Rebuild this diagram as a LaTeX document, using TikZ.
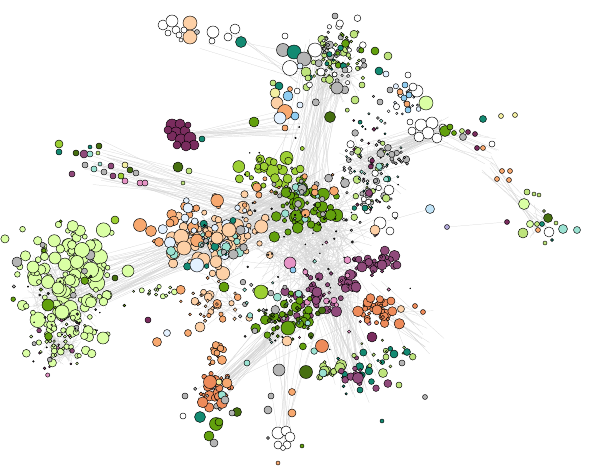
\documentclass[tikz,border=0pt]{standalone}
\usepackage{tikz}
\definecolor{lime}{HTML}{DAFFA4}
\definecolor{sprout}{HTML}{BEE47C}
\definecolor{peach}{HTML}{FDD0A6}
\definecolor{salmon}{HTML}{F7A86F}
\definecolor{coral}{HTML}{EE8B5A}
\definecolor{plum}{HTML}{7A2C5E}
\definecolor{mauve}{HTML}{904A7B}
\definecolor{leaf}{HTML}{62A00D}
\definecolor{yleaf}{HTML}{9CCF33}
\definecolor{moss}{HTML}{466F10}
\definecolor{teal}{HTML}{138A72}
\definecolor{aqua}{HTML}{9BE2D2}
\definecolor{sky}{HTML}{8FCDF2}
\definecolor{ice}{HTML}{E3F1FF}
\definecolor{ash}{HTML}{B5B5B5}
\definecolor{rose}{HTML}{E694C6}
\definecolor{butter}{HTML}{F4EFA2}
\definecolor{lilac}{HTML}{B0A8D8}
\tikzset{
  nd/.style={draw=black,line width=.45pt},
  edge/.style={draw=black!17,line width=.22pt},
}
% random cluster: cx, cy, sx, sy, count, max radius, colour
\newcommand{\blob}[7]{%
  \foreach \k in {1,...,#5}{%
    \pgfmathsetmacro{\bx}{#1+#3*(rand+rand+rand)/2}%
    \pgfmathsetmacro{\by}{#2+#4*(rand+rand+rand)/2}%
    \pgfmathsetmacro{\q}{rnd}%
    \pgfmathsetmacro{\br}{#6*(0.3+0.7*\q*\q)}%
    \path[nd,fill=#7] (\bx,\by) circle[radius=\br pt];
  }}
% random edges between two regions: x1, y1, s1, x2, y2, s2, count
\newcommand{\links}[7]{%
  \foreach \k in {1,...,#7}{%
    \pgfmathsetmacro{\ax}{#1+#3*(rand+rand)/2}%
    \pgfmathsetmacro{\ay}{#2+#3*(rand+rand)/2}%
    \pgfmathsetmacro{\cx}{#4+#6*(rand+rand)/2}%
    \pgfmathsetmacro{\cy}{#5+#6*(rand+rand)/2}%
    \draw[edge] (\ax,\ay) -- (\cx,\cy);
  }}
\newcommand{\vtx}[1]{%
  \foreach \x/\y/\r/\c in {#1}{\path[nd,fill=\c] (\x,\y) circle[radius=\r pt];}}

\begin{document}
\begin{tikzpicture}[x=1pt,y=-1pt]
\pgfmathsetseed{41}
\path[use as bounding box] (0,0) rectangle (600,476);
\fill[white] (0,0) rectangle (600,476);
% edges
\links{310}{240}{70}{310}{240}{70}{260}
\links{300}{200}{40}{65}{300}{40}{45}
\links{65}{290}{45}{65}{290}{45}{140}
\links{60}{345}{22}{60}{345}{22}{80}
\links{300}{200}{40}{325}{65}{30}{45}
\links{335}{80}{30}{335}{80}{30}{70}
\links{360}{165}{25}{440}{130}{15}{45}
\links{370}{170}{20}{370}{170}{40}{70}
\links{310}{200}{40}{210}{240}{40}{70}
\links{210}{240}{40}{210}{240}{40}{70}
\links{330}{290}{40}{330}{290}{40}{110}
\links{330}{290}{40}{215}{390}{20}{35}
\links{330}{290}{30}{355}{375}{30}{45}
\links{300}{300}{40}{285}{438}{8}{12}
\links{300}{220}{30}{100}{165}{30}{30}
\links{290}{125}{20}{183}{135}{8}{15}
\links{430}{130}{15}{495}{150}{20}{12}
\links{490}{165}{15}{540}{222}{15}{8}
\links{540}{222}{20}{540}{222}{20}{14}
\links{300}{80}{15}{215}{32}{20}{5}
\links{380}{300}{25}{420}{330}{30}{18}
\links{220}{300}{30}{220}{300}{30}{40}
\draw[edge] (241,42) -- (290,52);
\draw[edge] (447,227) -- (507,222);
\draw[edge] (202,139) -- (300,115);
\draw[edge] (430,209) -- (380,223);
% random fill
\blob{68}{280}{48}{55}{110}{8}{lime}
\blob{62}{345}{30}{24}{45}{4.5}{lime}
\blob{60}{295}{48}{60}{9}{5.5}{ash}
\blob{60}{295}{48}{60}{8}{4.5}{leaf}
\blob{60}{340}{30}{30}{8}{3}{mauve}
\blob{60}{340}{30}{30}{6}{3}{rose}
\blob{60}{320}{40}{40}{25}{1.5}{black!75}
\blob{150}{292}{25}{5}{14}{3.5}{lime}
\blob{215}{238}{50}{32}{75}{7.5}{peach}
\blob{200}{230}{48}{32}{18}{6.5}{salmon}
\blob{210}{235}{42}{32}{15}{6.5}{ice}
\blob{215}{245}{38}{28}{12}{5}{aqua}
\blob{220}{240}{42}{28}{8}{5}{ash}
\blob{220}{240}{42}{28}{8}{4}{teal}
\blob{210}{305}{30}{20}{22}{4.5}{peach}
\blob{210}{305}{30}{20}{12}{4.5}{salmon}
\blob{305}{205}{30}{28}{50}{6.5}{leaf}
\blob{272}{170}{30}{18}{30}{6.5}{yleaf}
\blob{305}{200}{22}{22}{6}{6.5}{aqua}
\blob{300}{190}{42}{32}{18}{5}{ash}
\blob{300}{190}{42}{32}{12}{4.5}{salmon}
\blob{335}{60}{32}{32}{45}{4}{sprout}
\blob{335}{60}{32}{32}{22}{4.5}{ash}
\blob{335}{60}{32}{32}{20}{4}{white}
\blob{335}{60}{32}{32}{10}{4}{leaf}
\blob{335}{60}{32}{32}{8}{4}{teal}
\blob{405}{100}{15}{15}{12}{3.5}{ice}
\blob{405}{100}{15}{15}{8}{3.5}{white}
\blob{370}{165}{30}{60}{35}{4}{ash}
\blob{370}{165}{30}{60}{18}{4}{white}
\blob{370}{165}{30}{60}{18}{4}{sprout}
\blob{370}{165}{30}{60}{12}{3.5}{teal}
\blob{370}{165}{30}{60}{12}{3.5}{plum}
\blob{370}{165}{30}{60}{12}{3.5}{aqua}
\blob{400}{160}{10}{10}{12}{4}{ash}
\blob{375}{262}{22}{12}{30}{5.5}{mauve}
\blob{315}{295}{28}{22}{40}{5.5}{mauve}
\blob{350}{282}{10}{8}{10}{5.5}{mauve}
\blob{330}{290}{50}{40}{22}{3.5}{rose}
\blob{380}{312}{20}{13}{30}{5.5}{coral}
\blob{290}{320}{32}{26}{35}{5.5}{leaf}
\blob{290}{320}{32}{26}{18}{4.5}{moss}
\blob{270}{300}{42}{32}{18}{5}{ash}
\blob{280}{300}{42}{40}{14}{4}{aqua}
\blob{360}{370}{30}{20}{22}{4}{teal}
\blob{330}{370}{12}{10}{18}{5.5}{sprout}
\blob{365}{375}{20}{15}{12}{4.5}{mauve}
\blob{380}{360}{30}{20}{12}{3.5}{sprout}
\blob{215}{390}{16}{18}{35}{5.5}{coral}
\blob{215}{360}{10}{15}{12}{4.5}{salmon}
\blob{215}{395}{20}{20}{10}{4.5}{ash}
\blob{300}{240}{90}{110}{60}{1.4}{black!75}
% key nodes
\vtx{163/25/5/white,172/21/6/white,176/30/4/white,168/33/3/white,179/35/3/white,
  190/23/7/peach,190/37/7/peach,184/30/3/white,197/32/2.5/ash,213/32/6/white,
  212/41/3/white,235/29/5/white,228/37/4/white,241/42/5.5/teal,181/40/2/white}
\vtx{283/50/6.5/ash,294/52/7/teal,304/59/7/ash,315/50/7/white,290/68/7.5/white,
  306/72/5/sprout,321/72/4/white,308/78/3/sprout,300/66/3/ice,285/36/3/white,
  335/16/3/ash,337/88/6/ash,330/117/5.5/moss,375/51/4/leaf,388/56/4/sprout,
  379/71/4/teal,362/85/3/sprout,345/70/3/ash,355/100/4/sprout}
\vtx{279/86/4/teal,275/93/5/butter,288/96/5/sky,277/103/6/peach,285/112/7.5/salmon,
  295/116/4/sky,280/118/6/ice,273/83/3/sprout,290/89/2.5/salmon,285/128/3/salmon,
  300/105/3/ice,254/122/5/leaf}
\vtx{172/125/6/plum,180/124/5/plum,176/133/6/plum,185/131/5/plum,172/136/5/plum,
  181/140/6/plum,190/138/6/plum,194/145/5/plum,186/146/5/plum,177/145/4/plum,
  168/130/4/plum,188/125/3/plum,202/139/3/teal}
\vtx{59/144/4/yleaf,59/152/3/teal,76/153/3/moss,84/154/4/mauve,90/154/3/aqua,
  99/146/3/moss,90/147/2/teal,98/153/2/sprout,72/174/3/mauve,85/165/3/ash,
  94/169/3/aqua,100/164/2/aqua,104/172/3/ash,111/166/3/mauve,113/176/3/mauve,
  125/165/3/butter,130/170/3/moss,136/173/3/ash,121/176/3/yleaf,125/181/3/rose,
  140/183/3/rose,145/183/3/rose,178/167/5/moss,189/171/3/sprout,183/183/2/sprout}
\vtx{17/262/5/ash,90/255/5/ash,48/305/6/leaf,115/220/4/yleaf,115/278/3/moss,
  82/250/7.5/lime,77/262/6.5/lime,55/258/6/lime,62/312/7/lime,128/271/6/lime,
  103/338/6/lime,48/282/6.5/lime,70/280/5.5/lime,33/267/6/lime,58/288/6/lime}
\vtx{140/225/6.5/salmon,151/231/5.5/salmon,159/242/4.5/salmon,170/223/4/salmon,
  171/251/4.5/aqua,184/248/7/peach,197/265/7/ice,229/230/7/peach,217/238/6/peach,
  188/208/5/ice,185/218/4/ice,167/333/3.5/ice,157/342/4.5/salmon,148/320/3/plum,
  188/333/3.5/salmon,200/327/5/peach,222/360/4.5/salmon,217/353/3/salmon,
  247/363/3/aqua,287/341/5/peach,224/287/5/leaf,261/292/7/yleaf}
\vtx{421/125/6/white,432/123/6/white,428/133/6/white,419/137/5/white,437/138/5/white,
  443/128/4/white,412/131/4/white,410/122/3/white,445/131/5.5/leaf,450/127/3/leaf,
  454/133/2.5/leaf,462/131/2.5/sprout,426/103/7/lime,417/91/6/white,413/87/4/white,
  405/85/3/sky,409/95/3/sky,404/98/3/sky,400/92/3/salmon,407/104/3/salmon,
  408/75/3/white,386/74/3/ice,408/110/3/sky,390/90/3/ash,380/102/3/ash}
\vtx{463/137/3.5/ash,468/132/2.5/plum,475/134/2.5/plum,477/148/2.5/plum,
  483/148/2.5/salmon,492/144/3/white,483/119/3.5/teal,501/116/2.5/butter,
  515/115/2.5/butter,497/179/2.5/salmon,502/171/2.5/salmon,510/171/2.5/salmon,
  509/180/2.5/salmon}
\vtx{524/204/5.5/lime,527/192/3/sprout,534/194/2/sprout,539/195/2/sprout,
  507/222/2.5/plum,523/233/5/sprout,530/224/3.5/lime,537/224/2.5/sprout,
  548/218/4.5/moss,549/232/5/white,542/224/2.5/teal,538/230/2.5/salmon,
  563/229/4.5/aqua,577/230/3.5/aqua,556/223/2/sprout,545/243/2/sprout,
  552/240/1.5/teal,544/211/1.5/sprout}
\vtx{447/227/2.5/lilac,430/209/4.5/sky!55,380/223/6/white,375/230/5/peach,
  390/231/4/white,365/208/3/teal,395/215/3/white,389/190/5/white,369/193/3.5/mauve,
  345/183/4.5/ash,334/191/4.5/salmon}
\vtx{290/263/6/rose,293/270/3/sky,372/337/5/plum,322/346/6.5/coral,288/328/7/leaf,
  279/370/6/ash,306/372/6.5/moss,323/373/4/aqua,358/378/5.5/mauve,360/390/3/teal,
  362/267/5/mauve,382/265/5/mauve,397/265/4/mauve,356/287/5/mauve,317/292/5/mauve,
  377/310/5/coral,391/301/4/coral,401/309/3.5/peach,423/312/2.5/coral,415/306/2.5/coral}
\vtx{394/354/4/teal,407/352/3.5/teal,383/373/4.5/sprout,399/385/3/sprout,
  402/363/3/ash,425/397/2.5/ash,386/357/3/sprout,382/421/2/teal}
\vtx{210/382/6.5/coral,222/403/5.5/coral,227/383/5/salmon,219/382/3/butter,
  222/395/4/aqua,225/400/4/ash,200/417/5.5/teal,216/424/6.5/leaf,219/422/4/leaf,
  209/436/5/leaf,214/443/4/ash,185/396/3/ash,183/416/3/white,268/410/4/ash,
  292/413/4/salmon,271/396/3/ash,292/392/3.5/salmon,237/412/4.5/moss,232/413/3/ash}
\vtx{278/433/6/white,286/431/5/white,290/437/5/white,278/445/4/white,287/445/4/white,
  283/448/2.5/white,278/463/2/salmon,302/446/2/leaf,268/438/1.5/ash}
\end{tikzpicture}
\end{document}
